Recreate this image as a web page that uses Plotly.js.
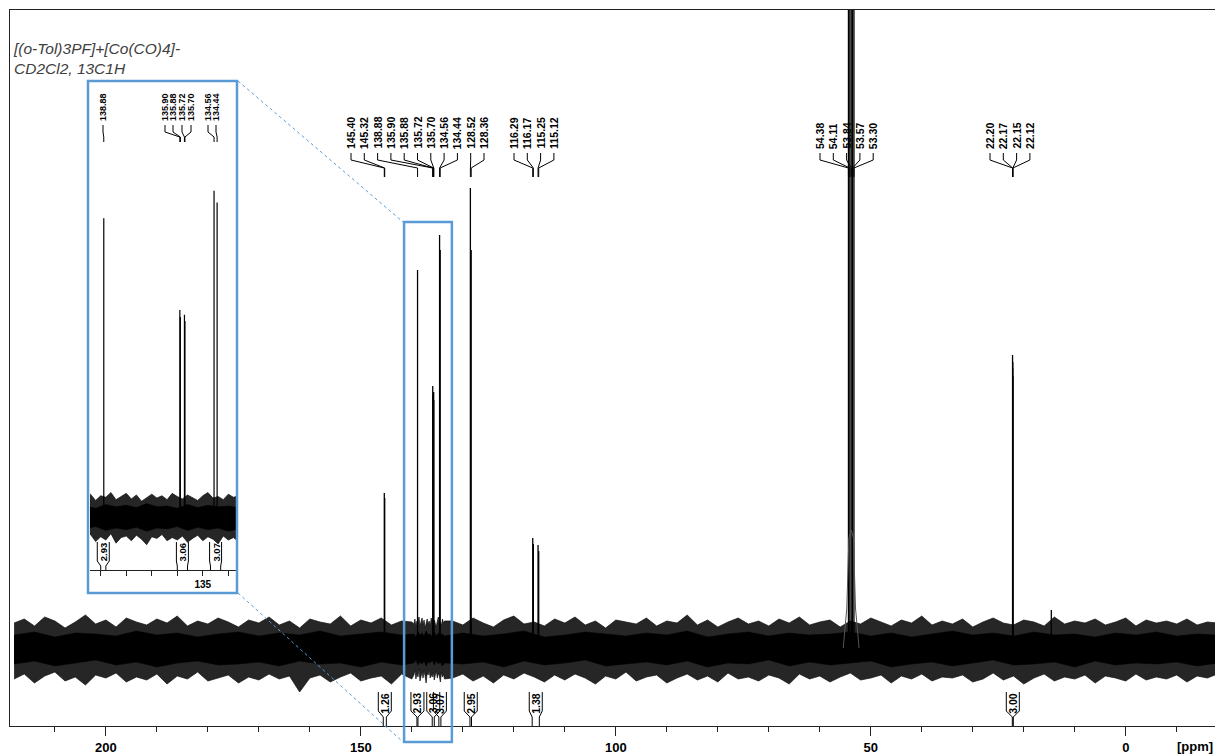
<!DOCTYPE html>
<html><head><meta charset="utf-8">
<script src="https://cdn.plot.ly/plotly-3.0.1.min.js"></script>
<style>html,body{margin:0;padding:0;background:#fff}#chart{width:1215px;height:756px}</style>
</head><body><div id="chart"></div>
<script>
// ---------------- DATA ----------------
const peakPpm = [145.40,145.32,138.88,135.90,135.88,135.72,135.70,134.56,134.44,128.52,128.36,
                 116.29,116.17,115.25,115.12,54.38,54.11,53.84,53.57,53.30,22.20,22.17,22.15,22.12,14.6];
const peakHeight = [155,150,378,262,253,256,248,413,398,460,398,
                    110,104,103,97,3000,6000,9000,6000,3000,293,280,286,272,38];
const peakLabels = ["145.40","145.32","138.88","135.90","135.88","135.72","135.70","134.56","134.44","128.52","128.36",
                    "116.29","116.17","115.25","115.12","54.38","54.11","53.84","53.57","53.30","22.20","22.17","22.15","22.12"];
const integralValues = ["1.26","2.93","3.06","3.07","2.95","1.38","3.00"];
const integralFrom = [145.6,139.0,136.0,134.7,128.6,116.4,22.25];
const integralTo   = [145.0,138.8,135.6,134.3,128.3,115.0,22.05];
const solventFootPpm = [55.4,54.7,54.3,53.84,53.4,53.0,52.3];
const solventFootHeight = [0,40,110,118,110,40,0];
// noise envelope (outer spikes)
const noisePpm = [218,216,214,212,210,208,206,204,202,200,198,196,194,192,190,188,186,184,182,180,
  178,176,174,172,170,168,166,164,162,160,158,156,154,152,150,148,146,144,142,140,
  139.6,139.4,139.2,139.0,138.8,138.6,138.4,138.2,138.0,137.8,137.6,137.4,137.2,137.0,136.8,136.6,
  136.4,136.2,136.0,135.8,135.6,135.4,135.2,135.0,134.8,134.6,134.4,134.2,134.0,133.8,133.6,
  132,130,128,126,124,122,120,118,116,114,112,110,108,106,104,102,100,98,96,94,92,90,88,86,84,82,80,
  78,76,74,72,70,68,66,64,62,60,58,56,54,52,50,48,46,44,42,40,38,36,34,32,30,28,26,24,22,20,18,16,14,
  12,10,8,6,4,2,0,-2,-4,-6,-8,-10,-12,-14,-16,-18];
const noiseUpper = [25,29,22,31,27,20,26,33,24,28,21,30,26,23,29,25,32,22,27,24,
  30,26,21,28,25,31,23,27,20,29,26,24,32,22,28,25,30,23,27,26,
  24,29,21,27,25,31,22,26,30,23,28,20,25,29,24,27,22,30,26,23,28,25,21,27,31,24,26,22,29,25,27,
  27,23,30,25,21,28,32,24,26,22,29,25,31,23,27,20,28,26,24,30,22,27,25,33,23,28,21,26,30,24,
  27,22,29,25,31,23,26,28,21,27,24,30,26,22,28,25,32,23,27,24,29,21,26,30,25,23,28,26,22,31,
  24,27,25,29,23,26,30,22,28,25,27,24,29,23,26,25];
const noiseLower = [-31,-26,-35,-28,-24,-33,-29,-37,-27,-30,-25,-34,-29,-32,-26,-36,-28,-31,-24,-33,
  -30,-27,-35,-29,-32,-26,-31,-28,-44,-30,-27,-34,-29,-25,-33,-30,-28,-36,-26,-31,
  -27,-22,-31,-25,-29,-21,-33,-26,-24,-30,-23,-28,-35,-25,-27,-22,-30,-26,-29,-24,-32,-27,-23,-30,-25,-28,-34,-24,-29,-26,-31,
  -30,-26,-33,-28,-35,-27,-31,-25,-29,-34,-27,-32,-26,-30,-36,-28,-31,-24,-33,-29,
  -27,-35,-30,-26,-32,-28,-34,-25,-31,-29,-33,-27,-30,-36,-26,-31,-28,-34,-29,-25,
  -32,-30,-27,-35,-28,-31,-26,-33,-29,-30,-27,-34,-31,-25,-32,-28,-36,-30,-26,-33,
  -29,-31,-27,-35,-28,-30,-33,-26,-32,-29,-31,-27,-34,-28,-30,-26];
// dense noise core
const corePpm = [218,214,210,206,202,198,194,190,186,182,178,174,170,166,162,158,154,150,146,142,
  139.6,139.2,138.8,138.4,138.0,137.6,137.2,136.8,136.4,136.0,135.6,135.2,134.8,134.4,134.0,133.6,
  130,126,122,118,114,110,106,102,98,94,90,86,82,78,74,70,66,62,58,54,50,46,42,38,34,30,26,22,18,14,10,6,2,-2,-6,-10,-14,-18];
const coreUpper = [13,16,11,15,14,12,17,13,15,11,14,16,12,15,13,17,12,14,16,13,
  14,11,16,13,15,12,17,13,14,11,16,12,15,13,14,12,
  15,12,14,17,11,13,16,14,12,15,13,17,11,14,16,12,15,13,14,16,12,15,11,14,17,13,15,12,16,13,14,11,15,13,16,12,14,13];
const coreLower = [-16,-13,-18,-15,-12,-17,-14,-19,-15,-13,-17,-16,-14,-18,-13,-16,-15,-19,-14,-17,
  -15,-12,-17,-14,-16,-13,-18,-14,-15,-12,-17,-13,-16,-14,-18,-15,
  -16,-14,-19,-13,-17,-15,-12,-18,-16,-14,-17,-13,-19,-15,-16,-12,-18,-14,-17,-15,-13,-19,-16,-14,-18,-15,-12,-17,-16,-14,-19,-13,-17,-15,-16,-14,-18,-15];
const xTickVals = [200,150,100,50,0];
const insetTickVals = [139,138,137,136,135,134];
const insetTickText = ["","","","","135",""];
const insetPeakIdx = [2,3,4,5,6,7,8];
const insetIntegralIdx = [1,2,3];
const sampleText = "[(o-Tol)3PF]+[Co(CO)4]-<br>CD2Cl2, 13C1H";

// ---------------- LAYOUT GEOMETRY ----------------
const W = 1215, H = 756;
const PL = 10, PW = 1205, PT = 10, PB = 726, PH = 716;
const X_RANGE = [218.8, -17.5], Y_RANGE = [-78, 638];
const IL = 90, IW = 146, IT = 84, IB = 570;
const IX_RANGE = [139.42, 133.7], IY_RANGE = [-67, 548];
const BOX_TOP = 81, BOX_BOTTOM = 593;
const BLUE = "#5b9bd5";
const FONT = "Liberation Sans, Arial, sans-serif";

const pxToPpm = px => X_RANGE[0] - (px - PL) * (X_RANGE[0] - X_RANGE[1]) / PW;
const ppmToPx = p => PL + (X_RANGE[0] - p) * PW / (X_RANGE[0] - X_RANGE[1]);
const ipxToPpm = px => IX_RANGE[0] - (px - IL) * (IX_RANGE[0] - IX_RANGE[1]) / IW;
const ippmToPx = p => IL + (IX_RANGE[0] - p) * IW / (IX_RANGE[0] - IX_RANGE[1]);
const yP = py => (PB - py) / PH;
const xP = px => (px - PL) / PW;

const labelGroups = [
  {start: 351, step: 13.3, idx: [0,1,2,3,4,5,6,7,8,9,10]},
  {start: 514, step: 13.3, idx: [11,12,13,14]},
  {start: 820, step: 13.3, idx: [15,16,17,18,19]},
  {start: 990, step: 13.3, idx: [20,21,22,23]}
];
const insetLabelPx = [103,165,173,182,191,208,216];

// ---------------- TRACES ----------------
function sticks(ppm, h) {
  const x = [], y = [];
  ppm.forEach((p, i) => { x.push(p, p, null); y.push(0, h[i], null); });
  return {x, y};
}
const st = sticks(peakPpm, peakHeight);
const traces = [];
[["x","y"],["x2","y2"]].forEach(([xa, ya]) => {
  traces.push({type:"scatter", mode:"lines", x:noisePpm, y:noiseLower, xaxis:xa, yaxis:ya,
    line:{color:"#111", width:0.7}, hoverinfo:"skip", showlegend:false});
  traces.push({type:"scatter", mode:"lines", x:noisePpm, y:noiseUpper, xaxis:xa, yaxis:ya,
    fill:"tonexty", fillcolor:"#262626", line:{color:"#111", width:0.7}, hoverinfo:"skip", showlegend:false});
  traces.push({type:"scatter", mode:"lines", x:corePpm, y:coreLower, xaxis:xa, yaxis:ya,
    line:{color:"#000", width:0.5}, hoverinfo:"skip", showlegend:false});
  traces.push({type:"scatter", mode:"lines", x:corePpm, y:coreUpper, xaxis:xa, yaxis:ya,
    fill:"tonexty", fillcolor:"#000", line:{color:"#000", width:0.5}, hoverinfo:"skip", showlegend:false});
  traces.push({type:"scatter", mode:"lines", x:st.x, y:st.y, xaxis:xa, yaxis:ya,
    line:{color:"#000", width: xa === "x" ? 1.3 : 1.2}, hoverinfo:"skip", showlegend:false});
});
traces.push({type:"scatter", mode:"lines", x:solventFootPpm, y:solventFootHeight, xaxis:"x", yaxis:"y",
  line:{color:"#555", width:1}, hoverinfo:"skip", showlegend:false});

// ---------------- ANNOTATIONS & SHAPES ----------------
const annotations = [], shapes = [];
const labFont = {family: FONT, size: 10.5, color: "#000", weight: "bold"};

labelGroups.forEach(g => {
  g.idx.forEach((pi, k) => {
    const lx = pxToPpm(g.start + k * g.step);
    annotations.push({x: lx, xref:"x", y: yP(150), yref:"paper", text: peakLabels[pi], showarrow:false,
      textangle:-90, xanchor:"center", yanchor:"bottom", font: labFont, borderpad:0});
    const pk = peakPpm[pi];
    shapes.push({type:"path", xref:"x", yref:"paper", layer:"above",
      path:`M ${lx},${yP(153)} L ${lx},${yP(160)} L ${pk},${yP(168)} L ${pk},${yP(177)}`,
      line:{color:"#000", width:1}});
  });
});

insetPeakIdx.forEach((pi, k) => {
  const lx = ipxToPpm(insetLabelPx[k]);
  annotations.push({x: lx, xref:"x2", y: yP(122), yref:"paper", text: peakLabels[pi], showarrow:false,
    textangle:-90, xanchor:"center", yanchor:"bottom", font:{family:FONT, size:9, color:"#000", weight:"bold"}, borderpad:0});
  const pk = peakPpm[pi];
  shapes.push({type:"path", xref:"x2", yref:"paper", layer:"above",
    path:`M ${lx},${yP(125)} L ${lx},${yP(132)} L ${pk},${yP(137)} L ${pk},${yP(142)}`,
    line:{color:"#000", width:1}});
});

// integrals, main
integralValues.forEach((v, i) => {
  const c = (integralFrom[i] + integralTo[i]) / 2;
  const cpx = ppmToPx(c);
  annotations.push({x: c, xref:"x", y: yP(703), yref:"paper", text: v, showarrow:false, textangle:-90,
    xanchor:"center", yanchor:"middle", font:{family:FONT, size:10.5, color:"#000", weight:"bold"}, borderpad:0});
  const l = pxToPpm(cpx - 6.5), r = pxToPpm(cpx + 6.5);
  shapes.push({type:"path", xref:"x", yref:"paper", layer:"above",
    path:`M ${l},${yP(692)} L ${l},${yP(711)} L ${integralFrom[i]},${yP(717)} L ${integralFrom[i]},${yP(726)} ` +
         `M ${r},${yP(692)} L ${r},${yP(711)} L ${integralTo[i]},${yP(717)} L ${integralTo[i]},${yP(726)}`,
    line:{color:"#000", width:1}});
});
// integrals, inset
insetIntegralIdx.forEach(i => {
  const c = (integralFrom[i] + integralTo[i]) / 2;
  const cpx = ippmToPx(c);
  annotations.push({x: c, xref:"x2", y: yP(552), yref:"paper", text: integralValues[i], showarrow:false, textangle:-90,
    xanchor:"center", yanchor:"middle", font:{family:FONT, size:9.5, color:"#000", weight:"bold"}, borderpad:0});
  const l = ipxToPpm(cpx - 6), r = ipxToPpm(cpx + 6);
  shapes.push({type:"path", xref:"x2", yref:"paper", layer:"above",
    path:`M ${l},${yP(542)} L ${l},${yP(561)} L ${integralFrom[i]},${yP(566)} L ${integralFrom[i]},${yP(570)} ` +
         `M ${r},${yP(542)} L ${r},${yP(561)} L ${integralTo[i]},${yP(566)} L ${integralTo[i]},${yP(570)}`,
    line:{color:"#000", width:1}});
});

// inset frame, zoom box, connecting dotted lines
shapes.push({type:"rect", xref:"paper", yref:"paper", x0:xP(88), x1:xP(237), y0:yP(BOX_BOTTOM), y1:yP(BOX_TOP),
  line:{color:BLUE, width:2.5}, fillcolor:"rgba(0,0,0,0)", layer:"above"});
shapes.push({type:"rect", xref:"x", yref:"paper", x0:IX_RANGE[0] + 2.1, x1:IX_RANGE[1] - 1.55, y0:yP(742), y1:yP(222),
  line:{color:BLUE, width:2.5}, fillcolor:"rgba(0,0,0,0)", layer:"above"});
shapes.push({type:"line", xref:"paper", yref:"paper", x0:xP(238), y0:yP(BOX_TOP), x1:xP(403), y1:yP(222),
  line:{color:BLUE, width:1, dash:"dot"}, layer:"above"});
shapes.push({type:"line", xref:"paper", yref:"paper", x0:xP(238), y0:yP(BOX_BOTTOM), x1:xP(403), y1:yP(742),
  line:{color:BLUE, width:1, dash:"dot"}, layer:"above"});

annotations.push({x: xP(11), xref:"paper", y: yP(38), yref:"paper", text: sampleText, showarrow:false,
  xanchor:"left", yanchor:"top", align:"left",
  font:{family:FONT, size:15.5, color:"#404040", style:"italic"}});
annotations.push({x: xP(1195), xref:"paper", y: yP(746), yref:"paper", text:"[ppm]", showarrow:false,
  xanchor:"center", yanchor:"middle", font:{family:FONT, size:13, color:"#000", weight:"bold"}});

const layout = {
  width: W, height: H,
  margin: {l: PL, r: W - PL - PW, t: PT, b: H - PB, pad: 0},
  paper_bgcolor: "#fff", plot_bgcolor: "rgba(0,0,0,0)",
  showlegend: false,
  font: {family: FONT},
  xaxis: {domain:[0,1], range: X_RANGE, anchor:"y", showline:true, mirror:true, linecolor:"#222", linewidth:1,
    ticks:"outside", ticklen:9, tickwidth:1, tickcolor:"#222", tickvals: xTickVals,
    minor:{dtick:10, tick0:0, ticks:"outside", ticklen:5, tickcolor:"#222", showgrid:false},
    tickfont:{family:FONT, size:13, color:"#000", weight:"bold"}, showgrid:false, zeroline:false, fixedrange:true},
  yaxis: {domain:[0,1], range: Y_RANGE, anchor:"x", showline:true, mirror:false, linecolor:"#222", linewidth:1,
    showticklabels:false, ticks:"", showgrid:false, zeroline:false},
  xaxis2: {domain:[xP(IL), xP(IL + IW)], range: IX_RANGE, anchor:"y2", showline:true, linecolor:"#222", linewidth:1,
    ticks:"outside", ticklen:5, tickcolor:"#222", tickvals: insetTickVals, ticktext: insetTickText,
    tickfont:{family:FONT, size:10, color:"#000", weight:"bold"}, showgrid:false, zeroline:false},
  yaxis2: {domain:[yP(IB), yP(IT)], range: IY_RANGE, anchor:"x2", visible:false, showgrid:false, zeroline:false},
  annotations, shapes
};

Plotly.newPlot("chart", traces, layout, {staticPlot:true, displayModeBar:false});
</script>
</body></html>
